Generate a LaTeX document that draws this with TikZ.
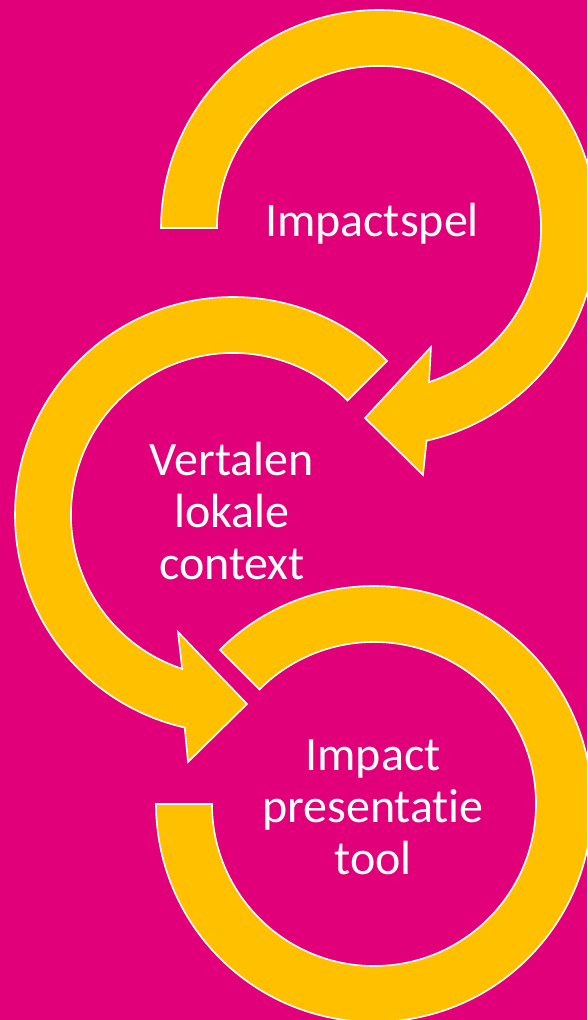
\documentclass[tikz,border=0pt]{standalone}
\usepackage{fontspec}
\setmainfont{Carlito}[Ligatures=NoCommon]
\definecolor{bgmag}{RGB}{226,0,122}
\definecolor{arrowyel}{RGB}{255,192,0}
\begin{document}
\begin{tikzpicture}[x=1pt,y=1pt,
  circarrow/.style={fill=arrowyel,draw=white,line width=1.6pt,line join=miter},
  label/.style={text=white,font=\fontsize{48}{52}\selectfont,align=center,inner sep=0pt,anchor=base}]
\useasboundingbox (0,0) rectangle (587,1020);
\fill[bgmag] (0,0) rectangle (587,1020);
\clip (0,0) rectangle (587,1020);
\coordinate (c1) at (379,792);
\coordinate (c2) at (233,505);
\coordinate (c3) at (374,216);
% arrow 1 head points
\coordinate (a1ob) at (423,545);
\coordinate (a1tip) at (365,602);
\coordinate (a1ib) at (431,673);
% arrow 2 head points
\coordinate (a2ob) at (188,258);
\coordinate (a2tip) at (247,316);
\coordinate (a2ib) at (178,388);
% circular arrow 1
\path[circarrow] ([shift={(180:218)}]c1) arc[start angle=180,end angle=-77.4,radius=218]
  -- (a1ob) -- (a1tip) -- (a1ib) -- ([shift={(-72:162)}]c1)
  arc[start angle=-72,end angle=180,radius=162] -- cycle;
% circular arrow 2
\path[circarrow] ([shift={(45:218)}]c2) arc[start angle=45,end angle=257.2,radius=218]
  -- (a2ob) -- (a2tip) -- (a2ib) -- ([shift={(251.7:162)}]c2)
  arc[start angle=251.7,end angle=45,radius=162] -- cycle;
% circular arc 3
\path[circarrow] ([shift={(135:218)}]c3) arc[start angle=135,end angle=-180,radius=218]
  -- ([shift={(180:162)}]c3) arc[start angle=180,end angle=495,radius=162] -- cycle;
% labels (base anchor = baseline of last line)
\node[label] (t1) at (372,783) {Impactspel};
\node[label] (t2) at (232,440) {Vertalen\\lokale\\context};
\node[label] (t3) at (373,145) {Impact\\presentatie\\tool};
\end{tikzpicture}
\end{document}
